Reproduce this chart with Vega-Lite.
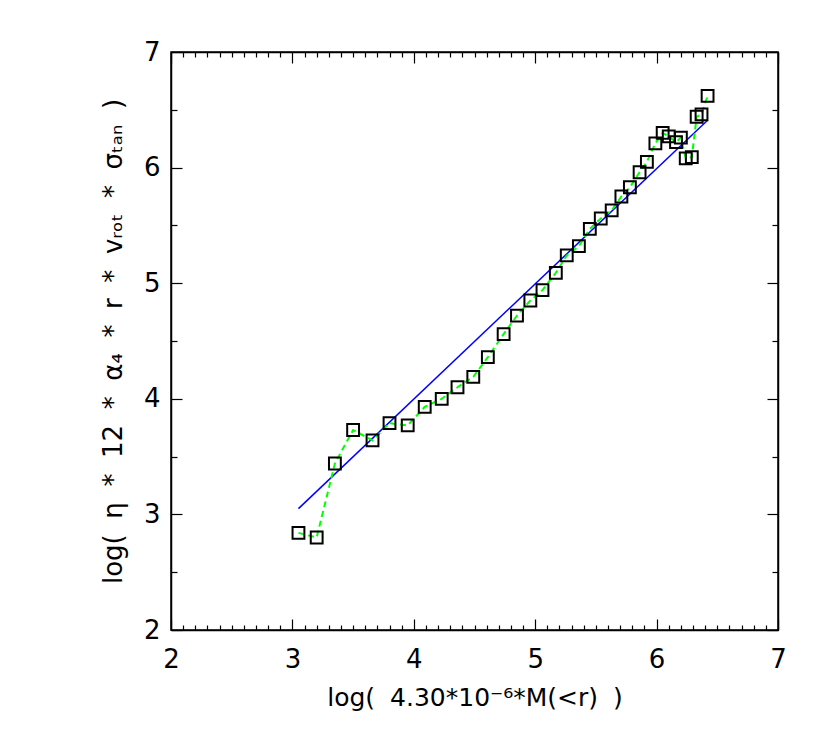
{
  "$schema": "https://vega.github.io/schema/vega-lite/v6.json",
  "width": 607,
  "height": 578,
  "autosize": {"type": "none"},
  "padding": {"left": 171, "top": 52, "right": 52, "bottom": 108},
  "background": "white",
  "config": {
    "view": {"stroke": "black", "strokeWidth": 1.5},
    "font": "DejaVu Sans",
    "axis": {
      "labelFont": "DejaVu Sans",
      "titleFont": "DejaVu Sans",
      "labelFontSize": 26,
      "titleFontSize": 25,
      "titleFontWeight": "normal",
      "labelColor": "black",
      "titleColor": "black",
      "domainColor": "black",
      "tickColor": "black",
      "domainWidth": 1.5,
      "tickWidth": 1.2,
      "grid": false
    }
  },
  "datasets": {
    "pts": [
      {"x": 3.05, "y": 2.84}, {"x": 3.20, "y": 2.80}, {"x": 3.35, "y": 3.44},
      {"x": 3.50, "y": 3.73}, {"x": 3.66, "y": 3.64}, {"x": 3.80, "y": 3.79},
      {"x": 3.95, "y": 3.77}, {"x": 4.09, "y": 3.93}, {"x": 4.23, "y": 4.00},
      {"x": 4.36, "y": 4.10}, {"x": 4.49, "y": 4.19}, {"x": 4.61, "y": 4.36},
      {"x": 4.74, "y": 4.56}, {"x": 4.85, "y": 4.72}, {"x": 4.96, "y": 4.85},
      {"x": 5.06, "y": 4.94}, {"x": 5.17, "y": 5.09}, {"x": 5.26, "y": 5.24},
      {"x": 5.36, "y": 5.32}, {"x": 5.45, "y": 5.47}, {"x": 5.54, "y": 5.56},
      {"x": 5.63, "y": 5.63}, {"x": 5.71, "y": 5.75}, {"x": 5.78, "y": 5.83},
      {"x": 5.86, "y": 5.96}, {"x": 5.92, "y": 6.05}, {"x": 5.99, "y": 6.21},
      {"x": 6.05, "y": 6.30}, {"x": 6.10, "y": 6.27}, {"x": 6.16, "y": 6.22},
      {"x": 6.20, "y": 6.26}, {"x": 6.24, "y": 6.08}, {"x": 6.29, "y": 6.09},
      {"x": 6.33, "y": 6.44}, {"x": 6.37, "y": 6.46}, {"x": 6.42, "y": 6.62}
    ],
    "fit": [
      {"x": 3.05, "y": 3.05}, {"x": 6.42, "y": 6.41}
    ]
  },
  "layer": [
    {
      "data": {"name": "fit"},
      "mark": {"type": "line", "color": "#0000ff", "strokeWidth": 1.5},
      "encoding": {
        "x": {
          "field": "x", "type": "quantitative",
          "scale": {"domain": [2, 7], "nice": false, "zero": false},
          "axis": {
            "orient": "bottom",
            "title": "log(\u2002\u200a4.30*10⁻⁶*M(<r)\u2002\u200a)",
            "titlePadding": 7,
            "values": [2,2.1,2.2,2.3,2.4,2.5,2.6,2.7,2.8,2.9,3,3.1,3.2,3.3,3.4,3.5,3.6,3.7,3.8,3.9,4,4.1,4.2,4.3,4.4,4.5,4.6,4.7,4.8,4.9,5,5.1,5.2,5.3,5.4,5.5,5.6,5.7,5.8,5.9,6,6.1,6.2,6.3,6.4,6.5,6.6,6.7,6.8,6.9,7],
            "labelExpr": "abs(datum.value - round(datum.value)) < 0.001 ? format(datum.value, 'd') : ''",
            "tickSize": {"condition": {"test": "abs(datum.value - round(datum.value)) < 0.001", "value": -11}, "value": -5},
            "labelPadding": 27,
            "labelFlush": false,
            "labelOverlap": false
          }
        },
        "y": {
          "field": "y", "type": "quantitative",
          "scale": {"domain": [2, 7], "nice": false, "zero": false},
          "axis": {
            "orient": "left",
            "title": "log(\u2002\u200aη\u2002\u200a*\u2002\u200a12\u2002\u200a*\u2002\u200aα₄\u2002\u200a*\u2002\u200ar\u2002\u200a*\u2002\u200avᵣₒₜ\u2002\u200a*\u2002\u200aσₜₐₙ\u2002\u200a)",
            "titleFontSize": 26,
            "titlePadding": 17,
            "values": [2, 2.5, 3, 3.5, 4, 4.5, 5, 5.5, 6, 6.5, 7],
            "labelExpr": "abs(datum.value - round(datum.value)) < 0.001 ? format(datum.value, 'd') : ''",
            "tickSize": {"condition": {"test": "abs(datum.value - round(datum.value)) < 0.001", "value": -11}, "value": -6},
            "labelPadding": 22,
            "labelFlush": false,
            "labelOverlap": false
          }
        }
      }
    },
    {
      "data": {"name": "pts"},
      "mark": {"type": "line", "color": "#00ff00", "strokeWidth": 2, "strokeDash": [6, 4]},
      "encoding": {
        "x": {"field": "x", "type": "quantitative", "axis": null},
        "y": {"field": "y", "type": "quantitative", "axis": null}
      }
    },
    {
      "data": {"name": "pts"},
      "mark": {"type": "point", "shape": "square", "size": 140, "filled": false, "stroke": "black", "strokeWidth": 2, "opacity": 1},
      "encoding": {
        "x": {"field": "x", "type": "quantitative", "axis": null},
        "y": {"field": "y", "type": "quantitative", "axis": null}
      }
    },
    {
      "data": {"name": "fit"},
      "mark": {"type": "point", "opacity": 0},
      "encoding": {
        "x": {
          "field": "x", "type": "quantitative",
          "axis": {
            "orient": "top", "title": null, "labels": false,
            "values": [2,2.1,2.2,2.3,2.4,2.5,2.6,2.7,2.8,2.9,3,3.1,3.2,3.3,3.4,3.5,3.6,3.7,3.8,3.9,4,4.1,4.2,4.3,4.4,4.5,4.6,4.7,4.8,4.9,5,5.1,5.2,5.3,5.4,5.5,5.6,5.7,5.8,5.9,6,6.1,6.2,6.3,6.4,6.5,6.6,6.7,6.8,6.9,7],
            "tickSize": {"condition": {"test": "abs(datum.value - round(datum.value)) < 0.001", "value": -11}, "value": -5}
          }
        },
        "y": {
          "field": "y", "type": "quantitative",
          "axis": {
            "orient": "right", "title": null, "labels": false,
            "values": [2, 2.5, 3, 3.5, 4, 4.5, 5, 5.5, 6, 6.5, 7],
            "tickSize": {"condition": {"test": "abs(datum.value - round(datum.value)) < 0.001", "value": -11}, "value": -6}
          }
        }
      }
    }
  ],
  "resolve": {"axis": {"x": "independent", "y": "independent"}}
}
